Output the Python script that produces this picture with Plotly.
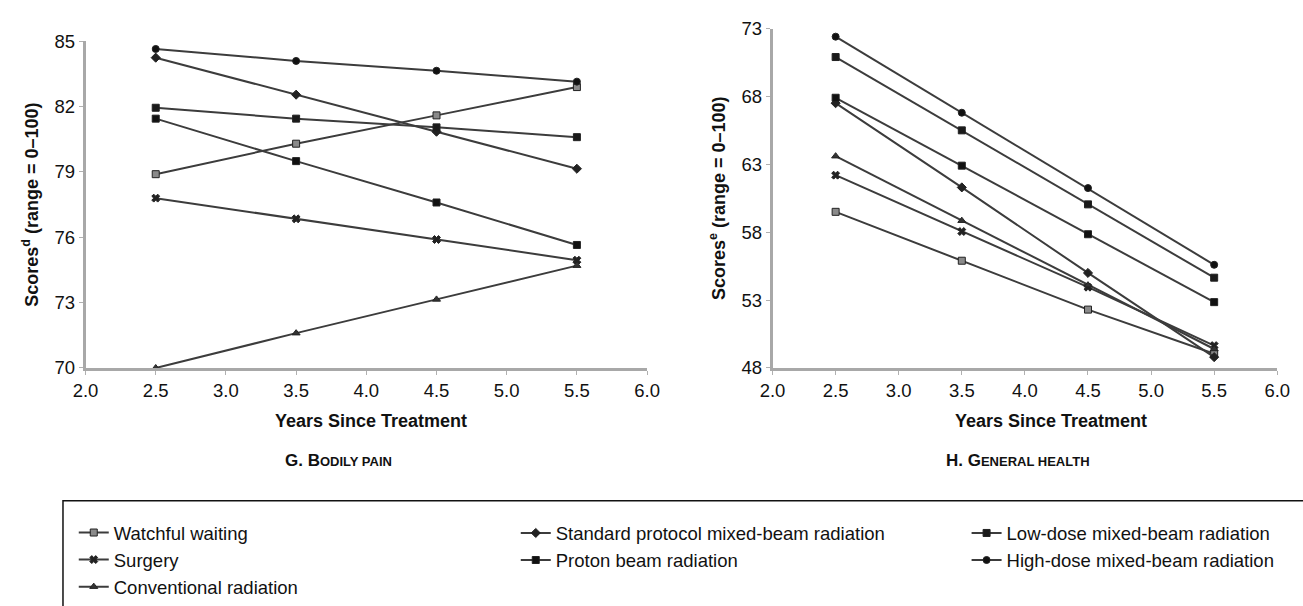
import plotly.graph_objects as go

# ---------------- data ----------------
years = [2.5, 3.5, 4.5, 5.5]
series_names = [
    "Watchful waiting",
    "Surgery",
    "Conventional radiation",
    "Standard protocol mixed-beam radiation",
    "Proton beam radiation",
    "Low-dose mixed-beam radiation",
    "High-dose mixed-beam radiation",
]
# G. Bodily pain
pain_watchful = [78.9, 80.3, 81.6, 82.9]
pain_surgery = [77.8, 76.85, 75.9, 74.95]
pain_conventional = [70.0, 71.6, 73.15, 74.7]
pain_standard = [84.25, 82.55, 80.85, 79.15]
pain_proton = [81.45, 79.5, 77.6, 75.65]
pain_lowdose = [81.95, 81.45, 81.05, 80.6]
pain_highdose = [84.65, 84.1, 83.65, 83.15]
# H. General health
gh_watchful = [59.5, 55.9, 52.3, 49.05]
gh_surgery = [62.2, 58.05, 53.95, 49.65]
gh_conventional = [63.6, 58.85, 54.1, 49.4]
gh_standard = [67.5, 61.3, 55.0, 48.8]
gh_proton = [67.9, 62.9, 57.85, 52.85]
gh_lowdose = [70.9, 65.5, 60.05, 54.65]
gh_highdose = [72.4, 66.8, 61.25, 55.6]

x_ticks = [2.0, 2.5, 3.0, 3.5, 4.0, 4.5, 5.0, 5.5, 6.0]
x_ticklabels = ["2.0", "2.5", "3.0", "3.5", "4.0", "4.5", "5.0", "5.5", "6.0"]
pain_ticks = [70, 73, 76, 79, 82, 85]
gh_ticks = [48, 53, 58, 63, 68, 73]

pain_values = [pain_watchful, pain_surgery, pain_conventional, pain_standard,
               pain_proton, pain_lowdose, pain_highdose]
gh_values = [gh_watchful, gh_surgery, gh_conventional, gh_standard,
             gh_proton, gh_lowdose, gh_highdose]

# ---------------- styles ----------------
symbols = ["square", "x", "triangle-up", "diamond", "square", "square", "circle"]
marker_fill = ["#8a8a8a", "#222222", "#333333", "#222222", "#111111", "#1a1a1a", "#111111"]
legend_of = ["legend", "legend", "legend", "legend2", "legend2", "legend3", "legend3"]
line_color = "#3c3c3c"
FONT = "Liberation Sans, Arial, sans-serif"

fig = go.Figure()
for i, name in enumerate(series_names):
    mk = dict(symbol=symbols[i], size=7, color=marker_fill[i],
              line=dict(color="#222222", width=1))
    fig.add_trace(go.Scatter(
        x=years, y=pain_values[i], name=name, mode="lines+markers",
        line=dict(color=line_color, width=2), marker=mk,
        legendgroup=name, legend=legend_of[i], showlegend=True,
        cliponaxis=False, xaxis="x", yaxis="y"))
    fig.add_trace(go.Scatter(
        x=years, y=gh_values[i], name=name, mode="lines+markers",
        line=dict(color=line_color, width=2), marker=mk,
        legendgroup=name, legend=legend_of[i], showlegend=False,
        cliponaxis=False, xaxis="x2", yaxis="y2"))

W, H = 1303, 606
def px_x(p):
    return p / W
def px_y(p):
    return 1 - p / H

axis_common = dict(
    showline=True, linecolor="#a8a8a8", linewidth=2.5, showgrid=False,
    zeroline=False, ticks="outside", ticklen=4, tickcolor="#b0b0b0", tickwidth=1,
    tickfont=dict(family=FONT, size=18.5, color="#111111"),
)

fig.update_layout(
    width=W, height=H,
    margin=dict(l=0, r=0, t=0, b=0),
    paper_bgcolor="white", plot_bgcolor="white",
    font=dict(family=FONT, color="#111111"),
    xaxis=dict(domain=[px_x(74), px_x(647)], range=[2, 6], anchor="y",
               tickvals=x_ticks, ticktext=x_ticklabels, **axis_common),
    yaxis=dict(domain=[px_y(373), px_y(31.7)], range=[70, 85], anchor="x",
               tickvals=pain_ticks,
               title=dict(text="Scores<sup>d</sup> (range = 0–100)", standoff=12,
                          font=dict(family=FONT, size=18, color="#111111", weight="bold")),
               **axis_common),
    xaxis2=dict(domain=[px_x(775), px_x(1290)], range=[2, 6], anchor="y2",
                tickvals=x_ticks, ticktext=x_ticklabels, **axis_common),
    yaxis2=dict(domain=[px_y(373), px_y(18.3)], range=[48, 73], anchor="x2",
                tickvals=gh_ticks,
                title=dict(text="Scores<sup>e</sup> (range = 0–100)", standoff=12,
                           font=dict(family=FONT, size=18, color="#111111", weight="bold")),
                **axis_common),
)

legend_common = dict(
    orientation="v", xanchor="left", yanchor="top",
    bgcolor="rgba(0,0,0,0)", borderwidth=0, tracegroupgap=0,
    font=dict(family=FONT, size=18.5, color="#111111"),
)
fig.update_layout(
    legend=dict(x=px_x(62), y=px_y(526), **legend_common),
    legend2=dict(x=px_x(513), y=px_y(526), **legend_common),
    legend3=dict(x=px_x(973), y=px_y(526), **legend_common),
)

# legend frame (top and left border, open to the right / bottom)
fig.add_shape(type="rect", xref="paper", yref="paper",
              x0=px_x(51), x1=1.02, y0=-0.05, y1=px_y(511.7),
              line=dict(color="#111111", width=1.5), fillcolor="rgba(0,0,0,0)",
              layer="below")

annotations = [
    dict(text="<b>Years Since Treatment</b>", x=px_x(365), y=px_y(428)),
    dict(text="<b>Years Since Treatment</b>", x=px_x(1059), y=px_y(428)),
    dict(text="<b>G. B<span style='font-size:13px'>ODILY PAIN</span></b>",
         x=px_x(332), y=px_y(470), size=17),
    dict(text="<b>H. G<span style='font-size:13px'>ENERAL HEALTH</span></b>",
         x=px_x(1025), y=px_y(470), size=17),
]
for a in annotations:
    fig.add_annotation(text=a["text"], x=a["x"], y=a["y"], xref="paper", yref="paper",
                       xanchor="center", yanchor="middle", showarrow=False,
                       font=dict(family=FONT, size=a.get("size", 18), color="#111111"))

fig.write_html("out.html", config={"displayModeBar": False},
               post_script="document.body.style.margin='0';document.body.style.overflow='hidden';")
